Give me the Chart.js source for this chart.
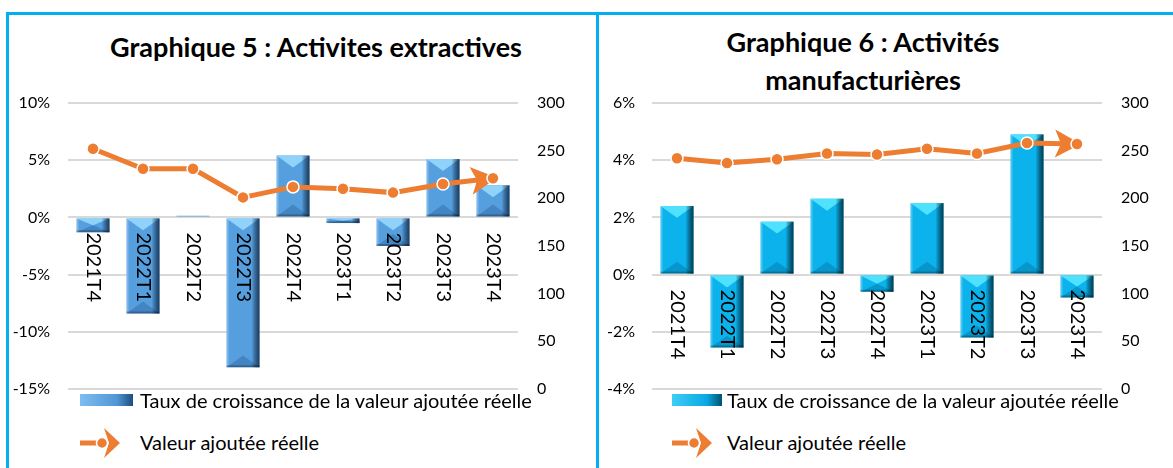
<!DOCTYPE html>
<html>
<head>
<meta charset="utf-8">
<script src="https://cdn.jsdelivr.net/npm/chart.js@4.4.0/dist/chart.umd.min.js"></script>
<style>
    body { margin: 0; background: #fff; font-family: Lato, sans-serif; color: #000; }
    #page { position: relative; width: 1173px; height: 468px; overflow: hidden; }
    .trait { position: absolute; background: #00b0f0; }
    .titre { position: absolute; font-weight: bold; font-size: 27px; text-align: center; line-height: 38px; }
    .graphe { position: absolute; }
    .leg { position: absolute; font-size: 20px; line-height: 22px; white-space: nowrap; }
    .barre5 { position: absolute; width: 53px; height: 12px; background: linear-gradient(90deg, #7fbdf0 0%, #4f97d6 70%, #1d4e7e 100%); }
    .barre6 { position: absolute; width: 50px; height: 12px; background: linear-gradient(90deg, #3fcdf8 0%, #0aa8e2 70%, #03506f 100%); }
</style>
</head>
<body>
<div id="page">
    <div class="trait" style="left:6px; top:12px; width:1167px; height:3px;"></div>
    <div class="trait" style="left:6px; top:12px; width:3px; height:456px;"></div>
    <div class="trait" style="left:596px; top:12px; width:3px; height:456px;"></div>

    <div class="titre" style="left:16px; top:28px; width:600px;">Graphique 5 : Activites extractives</div>
    <div class="titre" style="left:663px; top:23px; width:400px;">Graphique 6 : Activités<br>manufacturières</div>

    <canvas id="estadistica5" class="graphe" style="left:0; top:80px;" width="596" height="320"></canvas>
    <canvas id="estadistica6" class="graphe" style="left:599px; top:80px;" width="574" height="320"></canvas>

    <div class="barre5" style="left:80px; top:394px;"></div>
    <div class="leg" style="left:140px; top:389px;">Taux de croissance de la valeur ajoutée réelle</div>
    <svg style="position:absolute; left:80px; top:427px;" width="42" height="32">
        <line x1="0" y1="16" x2="26" y2="16" stroke="#ed7d31" stroke-width="5"></line>
        <polygon points="24,1 40,16 24,31 29,16" fill="#ed7d31"></polygon>
        <circle cx="22" cy="16" r="5.5" fill="#ed7d31" stroke="#fff" stroke-width="1.5"></circle>
    </svg>
    <div class="leg" style="left:140px; top:431px;">Valeur ajoutée réelle</div>

    <div class="barre6" style="left:672px; top:394px;"></div>
    <div class="leg" style="left:727px; top:389px;">Taux de croissance de la valeur ajoutée réelle</div>
    <svg style="position:absolute; left:672px; top:427px;" width="42" height="32">
        <line x1="0" y1="16" x2="26" y2="16" stroke="#ed7d31" stroke-width="5"></line>
        <polygon points="24,1 40,16 24,31 29,16" fill="#ed7d31"></polygon>
        <circle cx="22" cy="16" r="5.5" fill="#ed7d31" stroke="#fff" stroke-width="1.5"></circle>
    </svg>
    <div class="leg" style="left:727px; top:431px;">Valeur ajoutée réelle</div>
</div>

<script>
    // donnees
    const trimestres = ['2021T4', '2022T1', '2022T2', '2022T3', '2022T4', '2023T1', '2023T2', '2023T3', '2023T4'];

    const tauxExtractives = [-1.3, -8.4, 0.15, -13.1, 5.4, -0.5, -2.5, 5.1, 2.8];
    const valeurExtractives = [252, 231, 231, 201, 212, 210, 206, 215, 221];

    const tauxManufacture = [2.4, -2.55, 1.85, 2.65, -0.6, 2.5, -2.2, 4.9, -0.8];
    const valeurManufacture = [242, 237, 241, 247, 246, 252, 247, 258, 257];

    const echelleTaux5 = { min: -15, max: 10, pas: 5 };
    const echelleTaux6 = { min: -4, max: 6, pas: 2 };
    const echelleValeur = { min: 0, max: 300, pas: 50 };

    const naranja = '#ed7d31';

    // relief des barres (facon Excel)
    const biseau = {
        id: 'biseau',
        afterDatasetDraw(chart, args, opts) {
            if (args.meta.type !== 'bar') return;
            const ctx = chart.ctx;
            ctx.save();
            args.meta.data.forEach(bar => {
                const p = bar.getProps(['x', 'y', 'base', 'width'], true);
                const x0 = p.x - p.width / 2, x1 = p.x + p.width / 2;
                const haut = Math.min(p.y, p.base), bas = Math.max(p.y, p.base);
                const h = bas - haut;
                if (h < 1) return;
                const b = Math.min(p.width * 0.36, h / 2);

                // triangle clair en haut
                ctx.fillStyle = opts.clair;
                ctx.beginPath();
                ctx.moveTo(x0, haut);
                ctx.lineTo(x1, haut);
                ctx.lineTo(p.x, haut + b);
                ctx.closePath();
                ctx.fill();

                // triangle sombre en bas
                ctx.fillStyle = opts.sombre;
                ctx.beginPath();
                ctx.moveTo(x0, bas);
                ctx.lineTo(x1, bas);
                ctx.lineTo(p.x, bas - b);
                ctx.closePath();
                ctx.fill();

                // bord droit
                let g = ctx.createLinearGradient(x1 - 8, 0, x1, 0);
                g.addColorStop(0, 'rgba(0,0,0,0)');
                g.addColorStop(1, opts.bord);
                ctx.fillStyle = g;
                ctx.fillRect(x1 - 8, haut, 8, h);

                // bord gauche et bas
                ctx.fillStyle = 'rgba(255,255,255,0.25)';
                ctx.fillRect(x0, haut, 2, h);
                ctx.fillStyle = 'rgba(0,0,0,0.25)';
                ctx.fillRect(x0, bas - 2, p.width, 2);
            });
            ctx.restore();
        }
    };

    // etiquettes des trimestres, posees sur la ligne du zero
    const etiquettes = {
        id: 'etiquettes',
        afterDatasetsDraw(chart) {
            const ctx = chart.ctx;
            const xs = chart.scales.x;
            const y0 = chart.scales.y.getPixelForValue(0);
            ctx.save();
            ctx.fillStyle = '#000';
            ctx.font = '20px Lato';
            ctx.textAlign = 'left';
            ctx.textBaseline = 'middle';
            chart.data.labels.forEach((lab, i) => {
                ctx.save();
                ctx.translate(xs.getPixelForValue(i), y0 + 15);
                ctx.rotate(Math.PI / 2);
                ctx.fillText(lab, 0, 0);
                ctx.restore();
            });
            ctx.restore();
        }
    };

    // fleche au bout de la courbe
    const fleche = {
        id: 'fleche',
        beforeDatasetDraw(chart, args) {
            if (args.meta.type !== 'line') return;
            const pts = args.meta.data;
            const fin = pts[pts.length - 1], avant = pts[pts.length - 2];
            const a = Math.atan2(fin.y - avant.y, fin.x - avant.x);
            const ctx = chart.ctx;
            ctx.save();
            ctx.translate(fin.x, fin.y);
            ctx.rotate(a);
            ctx.fillStyle = naranja;
            ctx.beginPath();
            ctx.moveTo(4, 0);
            ctx.lineTo(-22, -14);
            ctx.lineTo(-16, 0);
            ctx.lineTo(-22, 14);
            ctx.closePath();
            ctx.fill();
            ctx.restore();
        }
    };

    function grafico(id, taux, valeurs, echelle, couleurs, largeurs) {
        const ctx = document.getElementById(id);
        return new Chart(ctx, {
            type: 'bar',
            data: {
                labels: trimestres,
                datasets: [
                    {
                        type: 'line',
                        data: valeurs,
                        yAxisID: 'y1',
                        borderColor: naranja,
                        borderWidth: 5,
                        pointRadius: 6,
                        pointBackgroundColor: naranja,
                        pointBorderColor: '#fff',
                        pointBorderWidth: 1.5,
                        order: 0,
                    },
                    {
                        data: taux,
                        yAxisID: 'y',
                        backgroundColor: couleurs.base,
                        barPercentage: 0.66,
                        categoryPercentage: 1,
                        order: 1,
                    },
                ],
            },
            options: {
                responsive: false,
                maintainAspectRatio: false,
                animation: false,
                layout: { padding: { top: 23, bottom: 11 } },
                plugins: {
                    legend: { display: false },
                    tooltip: { enabled: false },
                    biseau: couleurs,
                },
                scales: {
                    x: { display: false },
                    y: {
                        position: 'left',
                        min: echelle.min,
                        max: echelle.max,
                        ticks: {
                            stepSize: echelle.pas,
                            callback: v => v + '%',
                            padding: largeurs.padG,
                            color: '#000',
                            font: { family: 'Lato', size: 16 },
                        },
                        grid: { color: '#d9d9d9', lineWidth: 2, drawTicks: false },
                        border: { display: false },
                        afterFit: s => {
                            s.width = largeurs.gauche;
                            s.paddingTop = 0;
                            s.paddingBottom = 0;
                        },
                    },
                    y1: {
                        position: 'right',
                        min: echelleValeur.min,
                        max: echelleValeur.max,
                        ticks: {
                            stepSize: echelleValeur.pas,
                            padding: largeurs.padD,
                            color: '#000',
                            font: { family: 'Lato', size: 16 },
                        },
                        grid: { display: false, drawTicks: false },
                        border: { display: false },
                        afterFit: s => {
                            s.width = largeurs.droite;
                            s.paddingTop = 0;
                            s.paddingBottom = 0;
                        },
                    },
                },
            },
            plugins: [biseau, etiquettes, fleche],
        });
    }

    grafico('estadistica5', tauxExtractives, valeurExtractives, echelleTaux5,
        { base: '#559fdf', clair: '#8fd3fb', sombre: 'rgba(20,70,120,0.28)', bord: 'rgba(10,35,70,0.8)' },
        { gauche: 68, droite: 78, padG: 18, padD: 19 });

    grafico('estadistica6', tauxManufacture, valeurManufacture, echelleTaux6,
        { base: '#0bb2ec', clair: '#4fe2ff', sombre: 'rgba(0,80,120,0.28)', bord: 'rgba(0,40,60,0.85)' },
        { gauche: 53, droite: 71, padG: 17, padD: 19 });
</script>
</body>
</html>
